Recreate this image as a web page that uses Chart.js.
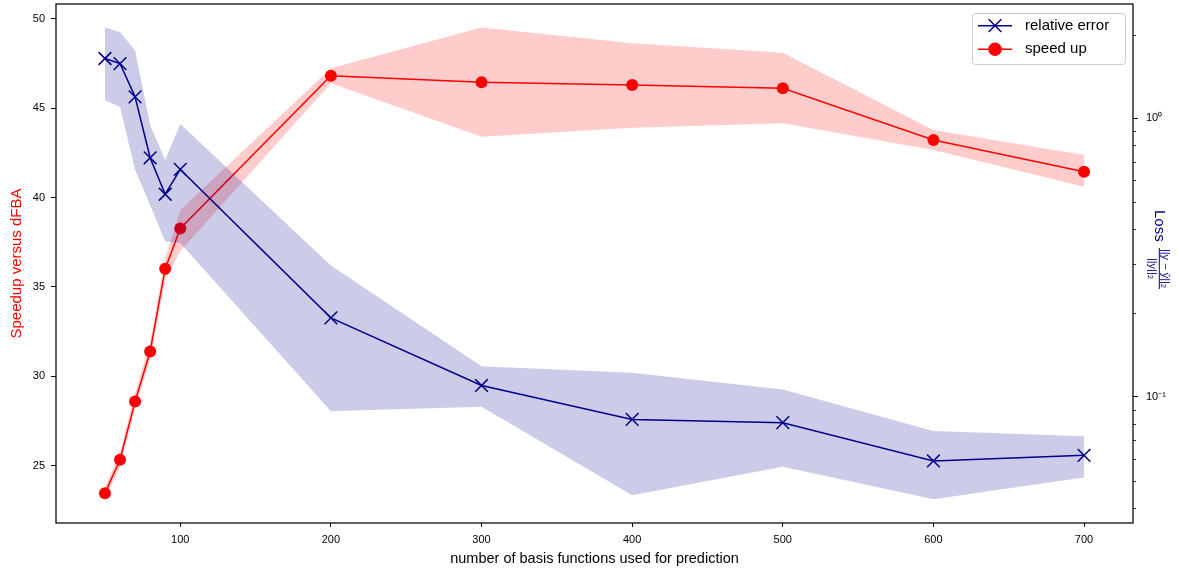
<!DOCTYPE html>
<html>
<head>
<meta charset="utf-8">
<script src="https://cdn.jsdelivr.net/npm/chart.js@4.4.1/dist/chart.umd.min.js"></script>
<style>
    html, body { margin: 0; padding: 0; background: #fff; }
    #wrap { width: 1178px; height: 569px; position: relative; }
</style>
</head>
<body>
<div id="wrap"><canvas id="chart"></canvas></div>
<script>
/* =============================
   DATA
============================= */

const nBasis = [50, 60, 70, 80, 90, 100, 200, 300, 400, 500, 600, 700];

const speedup     = [23.47, 25.34, 28.60, 31.39, 36.02, 38.27, 46.81, 46.44, 46.29, 46.11, 43.22, 41.44];
const speedupLow  = [23.12, 24.95, 28.15, 30.90, 35.40, 37.00, 46.39, 43.40, 43.90, 44.15, 42.66, 40.60];
const speedupHigh = [23.80, 25.75, 29.05, 31.90, 36.60, 39.30, 47.23, 49.50, 48.62, 48.10, 43.78, 42.38];

const relError     = [1.641, 1.574, 1.195, 0.722, 0.534, 0.656, 0.192, 0.1098, 0.0829, 0.0807, 0.0588, 0.0616];
const relErrorLow  = [1.163, 1.100, 0.653, 0.489, 0.361, 0.357, 0.0888, 0.0920, 0.0443, 0.0560, 0.0428, 0.0513];
const relErrorHigh = [2.120, 2.044, 1.757, 0.946, 0.709, 0.954, 0.296, 0.1288, 0.122, 0.1062, 0.0753, 0.0722];

const xTicks = [100, 200, 300, 400, 500, 600, 700];
const speedTicks = [25, 30, 35, 40, 45, 50];
const lossTicks = [0.1, 1];
const lossMinorTicks = [0.04, 0.05, 0.06, 0.07, 0.08, 0.09, 0.2, 0.3, 0.4, 0.5, 0.6, 0.7, 0.8, 0.9, 2];

const legendLabels = ["relative error", "speed up"];

/* =============================
   STYLE
============================= */

const FONT = "'Liberation Sans', Arial, sans-serif";
const RED = "#ff0000";
const NAVY = "#00008b";

function pts(values) {
    return nBasis.map((x, i) => ({ x: x, y: values[i] }));
}

/* no extra label padding, so the plot box sits where we want it */
function noPad(s) {
    s.paddingTop = 0;
    s.paddingBottom = 0;
    s.paddingLeft = 0;
    s.paddingRight = 0;
}

/* frame, minor log ticks, right title, legend */
const extras = {
    id: "extras",
    afterDraw(chart) {
        const ctx = chart.ctx;
        const a = chart.chartArea;
        const loss = chart.scales.yLoss;

        ctx.save();

        // frame
        ctx.strokeStyle = "#000";
        ctx.lineWidth = 1.25;
        ctx.strokeRect(a.left, a.top, a.right - a.left, a.bottom - a.top);

        // minor ticks on log axis
        ctx.lineWidth = 0.8;
        lossMinorTicks.forEach(v => {
            const y = Math.round(loss.getPixelForValue(v)) + 0.5;
            ctx.beginPath();
            ctx.moveTo(a.right, y);
            ctx.lineTo(a.right + 3, y);
            ctx.stroke();
        });

        // right axis title: Loss ||y - ŷ||2 / ||y||2 (reads downwards)
        ctx.save();
        ctx.translate(1160, 210);
        ctx.rotate(Math.PI / 2);
        ctx.fillStyle = NAVY;
        ctx.strokeStyle = NAVY;
        ctx.font = "15px " + FONT;
        ctx.textAlign = "left";
        ctx.textBaseline = "alphabetic";
        ctx.fillText("Loss", 0, 5);
        ctx.lineWidth = 1;
        ctx.beginPath();
        ctx.moveTo(38, 0.7);
        ctx.lineTo(79, 0.7);
        ctx.stroke();
        ctx.font = "11px " + FONT;
        ctx.textAlign = "center";
        ctx.fillText("||y \u2212 \u0177||\u2082", 58.5, -2);
        ctx.fillText("||y||\u2082", 58.5, 11);
        ctx.restore();

        // legend box
        const bx = a.right - 161, by = a.top + 9, bw = 153, bh = 51;
        ctx.fillStyle = "rgba(255,255,255,0.8)";
        ctx.strokeStyle = "#cccccc";
        ctx.lineWidth = 1;
        ctx.beginPath();
        ctx.roundRect(bx + 0.5, by + 0.5, bw, bh, 3);
        ctx.fill();
        ctx.stroke();

        const rows = [
            { color: NAVY, style: "crossRot", r: 9, y: by + 12.7 },
            { color: RED, style: "circle", r: 6, y: by + 36.3 }
        ];
        rows.forEach((r, i) => {
            ctx.strokeStyle = r.color;
            ctx.fillStyle = r.color;
            ctx.lineWidth = 1.5;
            ctx.beginPath();
            ctx.moveTo(bx + 6, r.y);
            ctx.lineTo(bx + 40, r.y);
            ctx.stroke();
            Chart.helpers.drawPoint(ctx, { pointStyle: r.style, radius: r.r, borderWidth: 1.5, rotation: 0 }, bx + 23, r.y);
            ctx.fillStyle = "#000";
            ctx.font = "15px " + FONT;
            ctx.textAlign = "left";
            ctx.textBaseline = "middle";
            ctx.fillText(legendLabels[i], bx + 53, r.y);
        });

        ctx.restore();
    }
};

/* =============================
   CHART
============================= */

new Chart(document.getElementById("chart"), {
    type: "line",
    data: {
        datasets: [
            {
                label: legendLabels[0],
                data: pts(relError),
                yAxisID: "yLoss",
                borderColor: NAVY,
                backgroundColor: NAVY,
                borderWidth: 1.5,
                pointStyle: "crossRot",
                pointRadius: 9,
                pointBorderWidth: 1.5,
                tension: 0,
                fill: false,
                order: 0
            },
            {
                data: pts(relErrorLow),
                yAxisID: "yLoss",
                borderWidth: 0,
                pointRadius: 0,
                fill: false,
                order: 1
            },
            {
                data: pts(relErrorHigh),
                yAxisID: "yLoss",
                borderWidth: 0,
                pointRadius: 0,
                backgroundColor: "rgba(0,0,139,0.2)",
                fill: 1,
                order: 1
            },
            {
                label: legendLabels[1],
                data: pts(speedup),
                yAxisID: "ySpeed",
                borderColor: RED,
                backgroundColor: RED,
                borderWidth: 1.5,
                pointStyle: "circle",
                pointRadius: 6,
                pointBorderWidth: 0,
                tension: 0,
                fill: false,
                order: 2
            },
            {
                data: pts(speedupLow),
                yAxisID: "ySpeed",
                borderWidth: 0,
                pointRadius: 0,
                fill: false,
                order: 3
            },
            {
                data: pts(speedupHigh),
                yAxisID: "ySpeed",
                borderWidth: 0,
                pointRadius: 0,
                backgroundColor: "rgba(255,0,0,0.2)",
                fill: 4,
                order: 3
            }
        ]
    },
    options: {
        responsive: true,
        maintainAspectRatio: false,
        animation: false,
        layout: { autoPadding: false, padding: { top: 4, left: 0, right: 0, bottom: 0 } },
        plugins: {
            legend: { display: false },
            tooltip: { enabled: false }
        },
        scales: {
            x: {
                type: "linear",
                position: "bottom",
                min: 17.5,
                max: 732.5,
                afterBuildTicks: s => { s.ticks = xTicks.map(v => ({ value: v })); },
                afterFit: s => { s.height = 46; noPad(s); },
                ticks: { autoSkip: false, maxRotation: 0, color: "#000", padding: 6,
                         font: { family: FONT, size: 11 } },
                grid: { drawOnChartArea: false, tickLength: 4, tickColor: "#000", tickWidth: 1 },
                border: { display: false },
                title: { display: true, text: "number of basis functions used for prediction",
                         color: "#000", font: { family: FONT, size: 14.5 }, padding: { top: 0, bottom: 1 } }
            },
            ySpeed: {
                type: "linear",
                position: "left",
                min: 21.8,
                max: 50.82,
                afterBuildTicks: s => { s.ticks = speedTicks.map(v => ({ value: v })); },
                afterFit: s => { s.width = 56; noPad(s); },
                ticks: { color: "#000", padding: 6, font: { family: FONT, size: 11 } },
                grid: { drawOnChartArea: false, tickLength: 5, tickColor: "#000", tickWidth: 1 },
                border: { display: false },
                title: { display: true, text: "Speedup versus dFBA", color: RED,
                         font: { family: FONT, size: 15 }, padding: { top: 8, bottom: 0 } }
            },
            yLoss: {
                type: "logarithmic",
                position: "right",
                min: 0.0352,
                max: 2.576,
                afterBuildTicks: s => { s.ticks = lossTicks.map(v => ({ value: v })); },
                afterFit: s => { s.width = 45; noPad(s); },
                ticks: { color: "#000", padding: 8, font: { family: FONT, size: 11 },
                         callback: v => (v === 1 ? "10\u2070" : "10\u207B\u00B9") },
                grid: { drawOnChartArea: false, tickLength: 5, tickColor: "#000", tickWidth: 1 },
                border: { display: false }
            }
        }
    },
    plugins: [extras]
});
</script>
</body>
</html>
